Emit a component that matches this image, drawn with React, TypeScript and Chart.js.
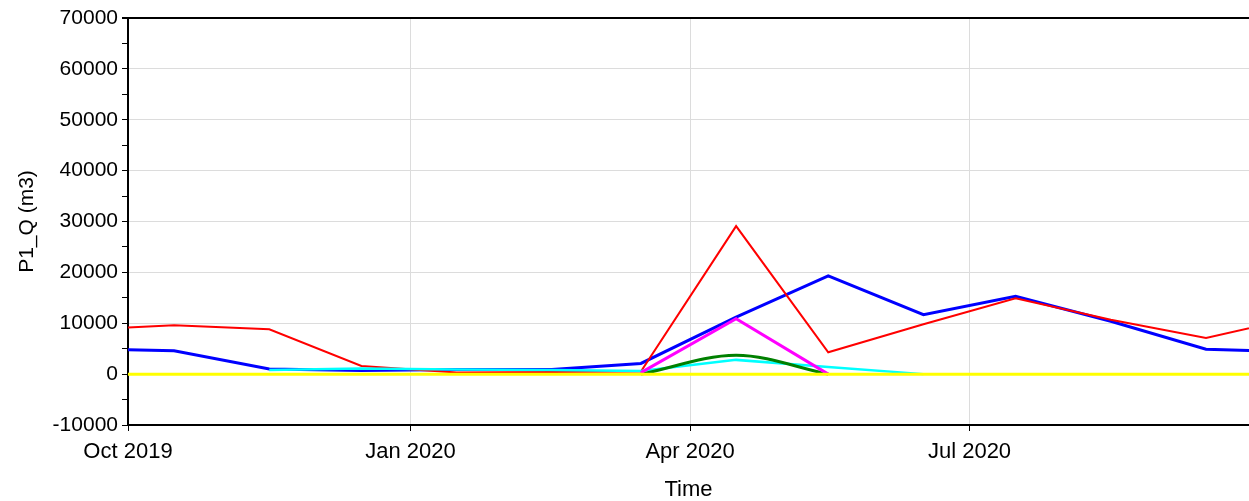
import { useEffect, useRef } from 'react';
import { Chart, registerables } from 'chart.js';
Chart.register(...registerables);

// Monthly sample dates (mid-month)
const dates = [
  '2019-09-16', '2019-10-16', '2019-11-16', '2019-12-16', '2020-01-16', '2020-02-16', '2020-03-16',
  '2020-04-16', '2020-05-16', '2020-06-16', '2020-07-16', '2020-08-16', '2020-09-16', '2020-10-16',
];
const redSeries = [8700, 9600, 8800, 1600, 300, 400, 500, 29100, 4300, 9800, 14900, 10700, 7100, 11200];
const blueSeries = [5000, 4600, 1000, 700, 900, 900, 2100, 11200, 19300, 11700, 15300, 10400, 4900, 4400];
const cyanSeries = [null, null, 800, 1100, 900, 800, 600, 2800, 1400, 0, null, null, null, null];
const greenSeries = [null, null, null, null, null, null, 0, 3700, 0, null, null, null, null, null];
const magentaSeries = [null, null, null, null, null, null, 300, 10900, 0, null, null, null, null, null];
const yellowSeries = [0, 0, 0, 0, 0, 0, 0, 0, 0, 0, 0, 0, 0, 0];

const axisStart = '2019-10-01';
const axisEnd = '2020-09-30';
const xTickDates = ['2019-10-01', '2020-01-01', '2020-04-01', '2020-07-01'];
const xTickLabels = ['Oct 2019', 'Jan 2020', 'Apr 2020', 'Jul 2020'];
const yMin = -10000;
const yMax = 70000;
const yStep = 5000;
const yLabelStep = 10000;

const DAY = 86400000;
const dayOf = (s: string) => (Date.parse(s + 'T00:00:00Z') - Date.parse(axisStart + 'T00:00:00Z')) / DAY;
const toPoints = (vals: (number | null)[]) => dates.map((d, i) => ({ x: dayOf(d), y: vals[i] }));

const FAMILY = "'Liberation Sans', Arial, sans-serif";
const FONT = { family: FAMILY, size: 21 };
const XFONT = { family: FAMILY, size: 22 };

export default function App() {
  const ref = useRef<HTMLCanvasElement | null>(null);
  useEffect(() => {
    if (!ref.current) return;
    const tickDays = xTickDates.map(dayOf);
    const chart = new Chart(ref.current, {
      type: 'line',
      data: {
        datasets: [
          { label: 'yellow', data: toPoints(yellowSeries), borderColor: '#ffff00', borderWidth: 3 },
          { label: 'magenta', data: toPoints(magentaSeries), borderColor: '#ff00ff', borderWidth: 3 },
          { label: 'green', data: toPoints(greenSeries), borderColor: '#008000', borderWidth: 3, cubicInterpolationMode: 'monotone' },
          { label: 'cyan', data: toPoints(cyanSeries), borderColor: '#00ffff', borderWidth: 2.5 },
          { label: 'red', data: toPoints(redSeries), borderColor: '#ff0000', borderWidth: 2 },
          { label: 'blue', data: toPoints(blueSeries), borderColor: '#0000ff', borderWidth: 3 },
        ] as any,
      },
      options: {
        animation: false,
        responsive: false,
        elements: { point: { radius: 0 }, line: { tension: 0 } },
        layout: { padding: { top: 18, left: 0, right: 0, bottom: 0 } },
        plugins: { legend: { display: false }, tooltip: { enabled: false } },
        scales: {
          x: {
            type: 'linear',
            min: 0,
            max: dayOf(axisEnd),
            afterFit: (s: any) => { s.height = 76; },
            afterBuildTicks: (s: any) => { s.ticks = tickDays.map((v) => ({ value: v })); },
            ticks: {
              autoSkip: false,
              maxRotation: 0,
              padding: 8,
              color: '#000',
              font: XFONT,
              callback: (v: any) => {
                const i = tickDays.indexOf(Number(v));
                return i >= 0 ? xTickLabels[i] : '';
              },
            },
            grid: { color: '#dcdcdc', lineWidth: 1, tickColor: '#000', tickLength: 6 },
            border: { color: '#000', width: 2 },
            title: { display: true, text: 'Time', color: '#000', font: XFONT, padding: { top: 0, bottom: -2 } },
          },
          y: {
            type: 'linear',
            min: yMin,
            max: yMax,
            afterFit: (s: any) => { s.width = 128; },
            ticks: {
              stepSize: yStep,
              autoSkip: false,
              padding: 4,
              color: '#000',
              font: FONT,
              callback: (v: any) => (Number(v) % yLabelStep === 0 ? String(v) : ''),
            },
            grid: {
              color: (c: any) => {
                const v = c.tick?.value;
                if (v === yMax) return '#000';
                return v % yLabelStep === 0 ? '#dcdcdc' : 'rgba(0,0,0,0)';
              },
              lineWidth: (c: any) => (c.tick?.value === yMax ? 2 : 1),
              tickColor: '#000',
              tickLength: 6,
            },
            border: { color: '#000', width: 2 },
            title: { display: true, text: 'P1_Q (m3)', color: '#000', font: FONT, padding: { top: 15, bottom: 0 } },
          },
        },
      } as any,
    });
    return () => chart.destroy();
  }, []);
  return (
    <div style={{ position: 'fixed', left: 0, top: 0, width: 1249, height: 501, background: '#fff' }}>
      <canvas ref={ref} width={1249} height={501} style={{ display: 'block' }} />
    </div>
  );
}
